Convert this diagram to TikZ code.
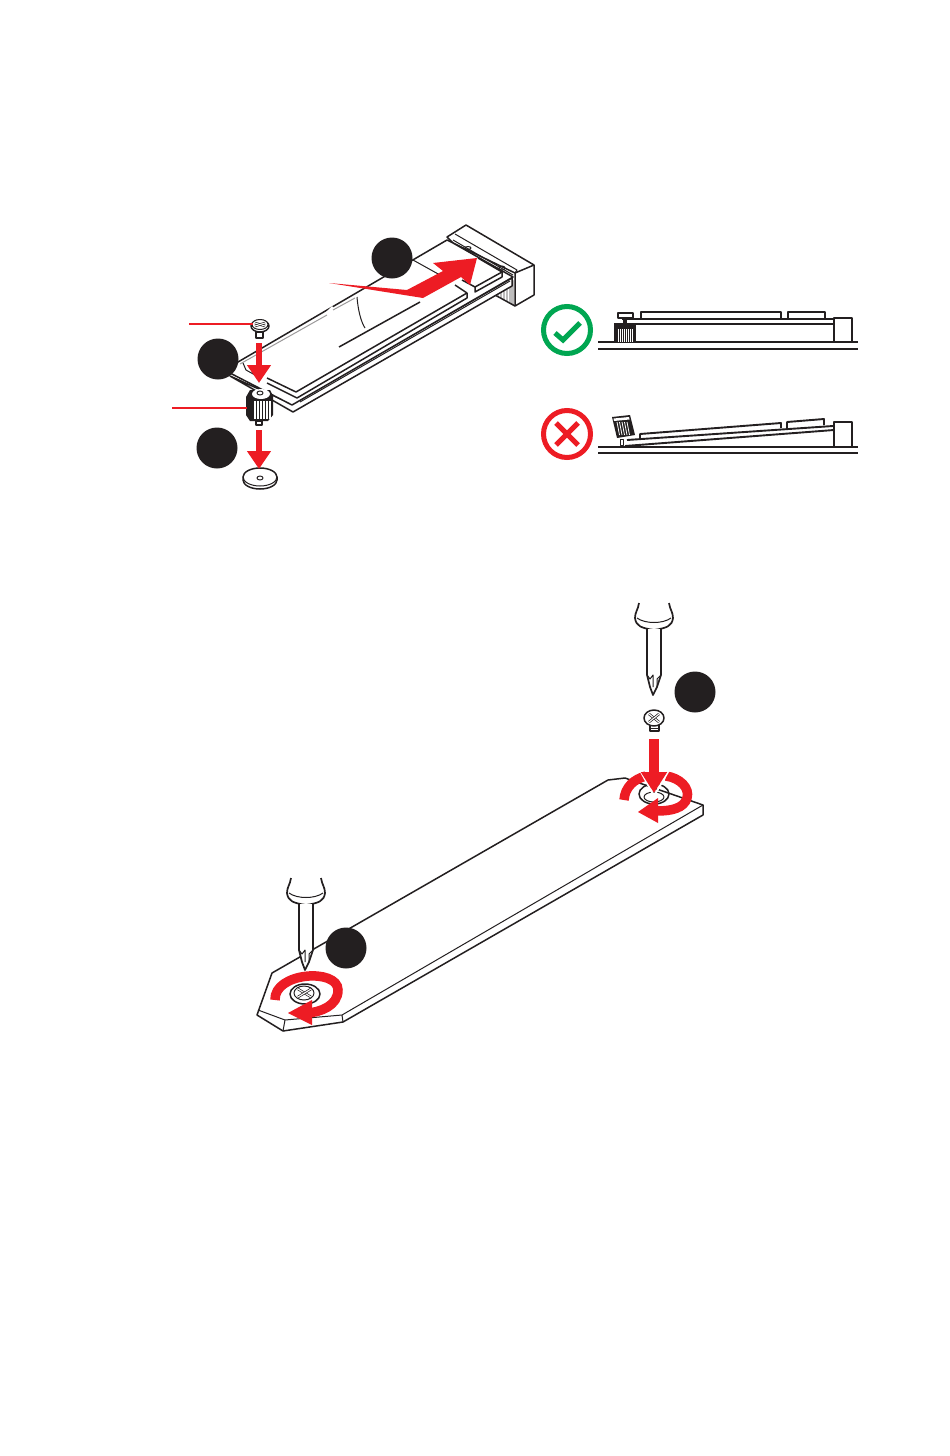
\documentclass[tikz,border=0pt]{standalone}
\usepackage{xcolor}
\usetikzlibrary{arrows.meta}
\definecolor{msired}{HTML}{ED1C24}
\definecolor{msigreen}{HTML}{00A651}
\definecolor{msiblack}{HTML}{231F20}
\tikzset{
    callout/.style={circle, fill=msiblack, minimum size=41pt, inner sep=0pt},
    outline/.style={draw=msiblack, line width=1.5pt, line join=round},
    thinline/.style={draw=msiblack, line width=1pt, line join=round},
    sideline/.style={draw=msiblack, line width=1.9pt, line join=round},
    crossline/.style={draw=msiblack, line width=0.7pt, double=white, double distance=1.1pt},
    redline/.style={draw=msired, line width=2.8pt},
    redarrow/.style={draw=msired, line width=6pt, -{Triangle[length=18pt,width=23pt]}},
    turn/.style={draw=msired, line width=9.5pt}
}
\begin{document}
\begin{tikzpicture}[x=1pt, y=-1pt]
    \useasboundingbox (0,0) rectangle (950,1456);

    % Pins under the connector
    \fill[msiblack!30] (492,291) -- (514,280) -- (514,306) -- (510,304) -- cycle;
    \foreach \x in {499,502,505,508} {
        \draw[white, line width=0.9pt] (\x,289) -- (\x,305);
    }
    \draw[outline] (495,295) -- (515,306);

    % Connector block
    \draw[outline, fill=white] (447,237) -- (466,225) -- (534,265) -- (534,295) -- (515,306) -- (515,273) -- (453,243) -- cycle;
    \draw[outline] (515,273) -- (534,265);
    \draw[thinline] (455,234) -- (517,270) -- (515,273);
    \draw[thinline] (453,240) -- (513,275);

    % M.2 card
    \draw[outline, fill=white] (230,376) -- (293,412) -- (512,286) -- (512,278) -- (292,404) -- cycle;
    \draw[outline, fill=white] (238,362) -- (447,240) -- (453,243) -- (513,277) -- (292,405) -- (230,373) -- cycle;
    \draw[draw=none, fill=white] (326,312) -- (332,306) -- (335,310) -- (329,316) -- cycle;
    \draw[msiblack!45, line width=1pt] (240,364) -- (327,315);
    \draw[msiblack!45, line width=1pt] (333,310) -- (355,298);
    \draw[thinline] (468,248) ellipse (3pt and 1.5pt);
    \draw[thinline] (502,268) ellipse (3pt and 2pt);

    % Chips of the card
    \draw[outline] (267,378) -- (296,392) -- (467,293) -- (455,285);
    \draw[outline] (267,383) -- (297,398) -- (467,298) -- (467,293);
    \draw[outline] (478,258) -- (502,272) -- (475,287) -- (462,280);
    \draw[outline] (502,272) -- (502,277) -- (475,292) -- (475,287);
    \draw[thinline] (300,402) -- (510,281);
    \draw[thinline] (243,363) -- (246,370) -- (255,375);
    \draw[outline] (339,347) -- (420,302);
    \draw[thinline] (357,297) .. controls (358,310) and (361,322) .. (365,328);
    \draw[thinline] (413,260) -- (440,275);

    % Big red arrow over the card
    \fill[msired] (329,283) -- (407,290) -- (443,271) -- (433,263) -- (477,258) -- (470,285) -- (461,277) -- (423,298) -- cycle;

    % Top screw and leader
    \draw[outline, fill=white] (256,332) rectangle (263,338);
    \draw[outline, fill=white] (260,326) ellipse (9pt and 6pt);
    \draw[thinline, fill=white] (260,324.5) ellipse (8pt and 5pt);
    \draw[crossline] (255,323) -- (265,326);
    \draw[crossline] (265,323) -- (255,326);
    \coordinate (screwleft) at (189,324);
    \coordinate (screwend) at (253,324);
    \draw[redline] (screwleft) -- (screwend);

    % Standoff
    \fill[msiblack] (246,397) -- (250,390) -- (270,390) -- (273,396) -- (273,415) -- (268,421) -- (250,421) -- (246,415) -- cycle;
    \fill[white] (261,394) ellipse (9pt and 5pt);
    \draw[thinline] (260,393) ellipse (3pt and 2pt);
    \foreach \x in {255,258,...,270} {
        \draw[white, line width=1.2pt] (\x,401) -- (\x,419);
    }
    \draw[outline, fill=white] (256,421) rectangle (262,425);
    \coordinate (standoffleft) at (172,408);
    \coordinate (standoffend) at (247,408);
    \draw[redline] (standoffleft) -- (standoffend);

    % Washer
    \draw[outline, fill=white] (243,480) arc (180:360:17pt and 9pt) -- (277,477) arc (0:180:17pt and 9pt) -- cycle;
    \draw[thinline] (243,477) arc (180:360:17pt and 9pt);
    \draw[thinline] (260,478) ellipse (3pt and 2pt);

    % Red arrows of the standoff
    \coordinate (upperfrom) at (259,343);
    \coordinate (upperto) at (259,383);
    \coordinate (lowerfrom) at (259,430);
    \coordinate (lowerto) at (259,469);
    \draw[redarrow] (upperfrom) -- (upperto);
    \draw[redarrow] (lowerfrom) -- (lowerto);

    % Callouts of the top picture
    \node[callout] (calloutcard) at (392,258) {};
    \node[callout] (calloutscrew) at (218,359) {};
    \node[callout] (calloutwasher) at (217,448) {};

    % Good mounting
    \draw[msigreen, line width=5pt] (567,330) circle (23.5pt);
    \draw[msigreen, line width=5pt] (555,333) -- (563,340) -- (580,323);
    \draw[sideline] (598,342) -- (858,342);
    \draw[sideline] (598,349) -- (858,349);
    \draw[sideline] (834,342) -- (834,318) -- (852,318) -- (852,342);
    \draw[sideline] (622,319) -- (834,319);
    \draw[sideline] (614,324) -- (834,324);
    \draw[sideline] (641,319) -- (641,312) -- (781,312) -- (781,319);
    \draw[sideline] (788,319) -- (788,312) -- (825,312) -- (825,319);
    \draw[sideline] (618,313) rectangle (633,318);
    \fill[msiblack] (623,318) rectangle (627,325);
    \fill[msiblack] (614,325) rectangle (636,342);
    \foreach \x in {618,620,...,632} {
        \draw[white, line width=0.8pt] (\x,329) -- (\x,342);
    }

    % Bad mounting
    \draw[msired, line width=5pt] (567,434) circle (23.5pt);
    \draw[msired, line width=5pt] (556,423) -- (578,445);
    \draw[msired, line width=5pt] (578,423) -- (556,445);
    \draw[sideline] (598,447) -- (858,447);
    \draw[sideline] (598,453) -- (858,453);
    \draw[sideline] (834,447) -- (834,422) -- (852,422) -- (852,447);
    \draw[sideline] (627,440) -- (833,426);
    \draw[sideline] (625,446) -- (834,430);
    \draw[sideline] (640,438) -- (640,434) -- (781,423) -- (781,428);
    \draw[sideline] (787,428) -- (787,422) -- (824,419) -- (824,425);
    \fill[msiblack] (612,417) -- (630,415) -- (635,435) -- (617,438) -- cycle;
    \fill[white] (613.5,418.5) -- (629,417) -- (629.5,419.5) -- (614,421) -- cycle;
    \foreach \x in {617,619.5,...,629} {
        \draw[white, line width=0.8pt] (\x,422) -- (\x+2.5,435);
    }
    \draw[thinline, fill=white] (620,439) rectangle (623,445);

    % M-key plate
    \draw[outline, fill=white] (272,973) -- (608,780) -- (625,778) -- (703,805) -- (703,815) -- (343,1022) -- (283,1031) -- (257,1015) -- cycle;
    \draw[thinline] (258,1010) -- (285,1020) -- (342,1015) -- (703,805);
    \draw[thinline] (285,1020) -- (283,1031);
    \draw[thinline] (342,1015) -- (343,1022);

    % Screwdrivers
    \foreach \ox/\oy in {0/0,-348/275} {
        \begin{scope}[shift={(\ox,\oy)}]
            \draw[outline, line width=1.7pt, fill=white] (639,603) .. controls (638,610) and (635,612) .. (635,618) .. controls (636,626) and (641,628) .. (654,630) .. controls (667,628) and (672,626) .. (673,618) .. controls (673,612) and (670,610) .. (669,603);
            \draw[thinline] (637,618) .. controls (645,624) and (663,624) .. (671,618);
            \draw[outline, line width=1.7pt, fill=white] (647,629) -- (647,675) -- (650,687) -- (653,695) -- (657,687) -- (661,675) -- (661,629);
            \draw[thinline] (647,675) -- (650,679) -- (653,675) -- (653,687);
            \draw[thinline] (661,675) -- (657,679) -- (657,687);
        \end{scope}
    }

    % Loose screw
    \draw[outline, fill=white] (650,725) rectangle (659,731);
    \draw[thinline] (650,728) -- (659,728);
    \draw[outline, fill=white] (654,718) ellipse (10pt and 8pt);
    \draw[crossline] (649,714) -- (659,722);
    \draw[crossline] (659,714) -- (649,722);

    % Hole of the right end
    \draw[outline] (654,794) ellipse (15pt and 10pt);
    \draw[thinline] (654,797) ellipse (10pt and 5pt);

    % Screw of the left end
    \draw[outline, fill=white] (305,994) ellipse (15pt and 10pt);
    \draw[thinline, fill=white] (304,993) ellipse (10pt and 7pt);
    \draw[crossline] (298,989) -- (311,997);
    \draw[crossline] (311,989) -- (298,997);

    % Turning arrow, left
    \draw[turn] (275,1000) .. controls (274,972) and (338,968) .. (338,990) .. controls (338,1006) and (320,1012) .. (308,1013);
    \fill[msired] (288,1013) -- (312,1000) -- (312,1025) -- cycle;

    % Turning arrow, right
    \draw[turn] (624,800) .. controls (625,787) and (634,779) .. (646,776);
    \draw[turn] (666,776) .. controls (680,778) and (690,788) .. (687,798) .. controls (684,808) and (672,811) .. (657,811);
    \fill[msired] (638,812) -- (658,798) -- (658,823) -- cycle;
    \draw[white, line width=2pt] (640,770) -- (654,796) -- (669,770);
    \coordinate (platefrom) at (654,739);
    \coordinate (plateto) at (654,793);
    \draw[redarrow, line width=10pt, -{Triangle[length=21pt,width=25pt]}] (platefrom) -- (plateto);

    % Callouts of the bottom picture
    \node[callout] (calloutright) at (695,692) {};
    \node[callout] (calloutleft) at (346,948) {};

\end{tikzpicture}
\end{document}
